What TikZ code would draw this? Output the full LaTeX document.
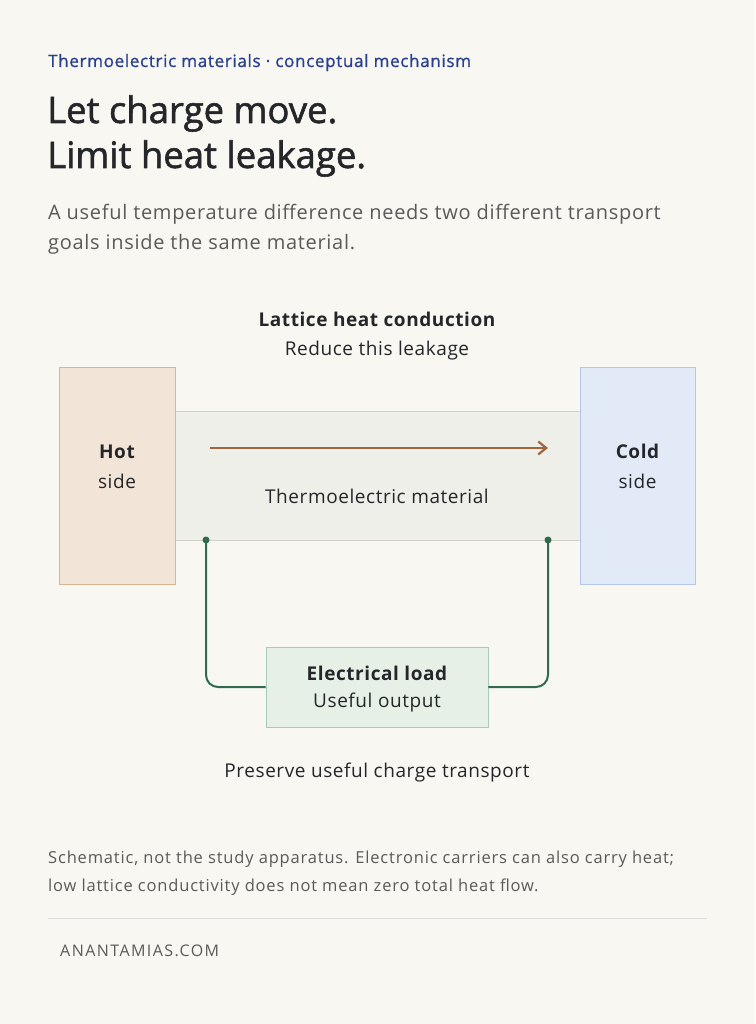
\documentclass[tikz,border=0pt]{standalone}
\usepackage{fontspec}
\setmainfont{Open Sans}
\usetikzlibrary{arrows.meta, positioning, calc}
\definecolor{bgpaper}{HTML}{F8F7F2}
\definecolor{inkdark}{HTML}{24262A}
\definecolor{inkgray}{HTML}{5A5A5A}
\definecolor{headblue}{HTML}{2B3F8F}
\definecolor{hotfill}{HTML}{F2E4D6}
\definecolor{hotline}{HTML}{D7B494}
\definecolor{coldfill}{HTML}{E3EAF7}
\definecolor{coldline}{HTML}{B5C7E6}
\definecolor{matfill}{HTML}{EFEFE9}
\definecolor{matline}{HTML}{D0D0C6}
\definecolor{heatbrown}{HTML}{A0653F}
\definecolor{wiregreen}{HTML}{2F6B4D}
\definecolor{loadfill}{HTML}{E6F0E7}
\definecolor{loadline}{HTML}{A8CCB2}
\newcommand{\lbl}{\fontsize{19}{22}\selectfont\addfontfeature{LetterSpace=3}}
\tikzset{
  txt/.style={inner sep=0pt, anchor=base west},
  ctr/.style={inner sep=0pt, anchor=base, align=center},
  box/.style={draw, line width=0.8pt, inner sep=0pt},
  wire/.style={wiregreen, line width=2pt, rounded corners=12pt},
  dot/.style={circle, fill=wiregreen, inner sep=0pt, minimum size=7pt},
}
\begin{document}
\begin{tikzpicture}[x=1pt, y=-1pt]
        % --- paper ---
        \fill[bgpaper] (0,0) rectangle (755,1024);
        \useasboundingbox (0,0) rectangle (755,1024);

        % --- header and title ---
        \node[txt, headblue, font=\fontsize{17}{20}\selectfont\addfontfeature{FakeBold=1,LetterSpace=4}] (kicker) at (48,67) {Thermoelectric materials · conceptual mechanism};
        \node[txt, inkdark, font=\fontsize{36.5}{44}\selectfont\addfontfeature{FakeBold=1.5}] (title1) at (47,123) {Let charge move.};
        \node[txt, inkdark, font=\fontsize{36.5}{44}\selectfont\addfontfeature{FakeBold=1.5}] (title2) at (47,168) {Limit heat leakage.};
        \node[txt, inkgray, font=\fontsize{20}{24}\selectfont\addfontfeature{LetterSpace=3.5}] (sub1) at (48,220) {A useful temperature difference needs two different transport};
        \node[txt, inkgray, font=\fontsize{20}{24}\selectfont\addfontfeature{LetterSpace=3.5}] (sub2) at (48,249) {goals inside the same material.};

        % --- heat label ---
        \node[ctr, inkdark, font=\lbl\bfseries] (latt) at (377,326) {Lattice heat conduction};
        \node[ctr, inkdark, font=\lbl] (leak) at (377,355) {Reduce this leakage};

        % --- blocks ---
        \draw[box, matline, fill=matfill] (175,411) rectangle (580,540);
        \node[box, hotline, fill=hotfill, minimum width=116pt, minimum height=217pt] (hot) at (117,475.5) {};
        \node[box, coldline, fill=coldfill, minimum width=115pt, minimum height=217pt] (cold) at (637.5,475.5) {};
        \node[ctr, inkdark, font=\lbl\bfseries] at (117,458) {Hot};
        \node[ctr, inkdark, font=\lbl] at (117,488) {side};
        \node[ctr, inkdark, font=\lbl\bfseries] at (637.5,458) {Cold};
        \node[ctr, inkdark, font=\lbl] at (637.5,488) {side};
        \node[ctr, inkdark, font=\lbl] (matlabel) at (377,503) {Thermoelectric material};

        % --- heat flow arrow ---
        \coordinate (hstart) at (210,448);
        \coordinate (hend) at (548,448);
        \draw[heatbrown, line width=2.2pt, -{Straight Barb[length=8pt, width=13pt]}] (hstart) -- (hend);

        % --- electrical circuit ---
        \node[box, loadline, fill=loadfill, minimum width=222pt, minimum height=80pt] (load) at (377,687) {};
        \node[ctr, inkdark, font=\lbl\bfseries] at (377,680) {Electrical load};
        \node[ctr, inkdark, font=\lbl] at (377,707) {Useful output};
        \node[dot] (tl) at (206,540) {};
        \node[dot] (tr) at (548,540) {};
        \draw[wire] (tl.center) |- (load.west);
        \draw[wire] (tr.center) |- (load.east);
        \node[ctr, inkdark, font=\lbl] (keep) at (377,777) {Preserve useful charge transport};

        % --- footnote ---
        \node[txt, inkgray, font=\fontsize{16.5}{20}\selectfont\addfontfeature{LetterSpace=5}] (note1) at (48,863) {Schematic, not the study apparatus. Electronic carriers can also carry heat;};
        \node[txt, inkgray, font=\fontsize{16.5}{20}\selectfont\addfontfeature{LetterSpace=5}] (note2) at (48,891) {low lattice conductivity does not mean zero total heat flow.};
        \draw[black!13, line width=1pt] (48,918) -- (707,918);
        \node[txt, inkgray, font=\fontsize{16}{20}\selectfont\addfontfeature{LetterSpace=9}] (site) at (60,956) {ANANTAMIAS.COM};
\end{tikzpicture}
\end{document}
